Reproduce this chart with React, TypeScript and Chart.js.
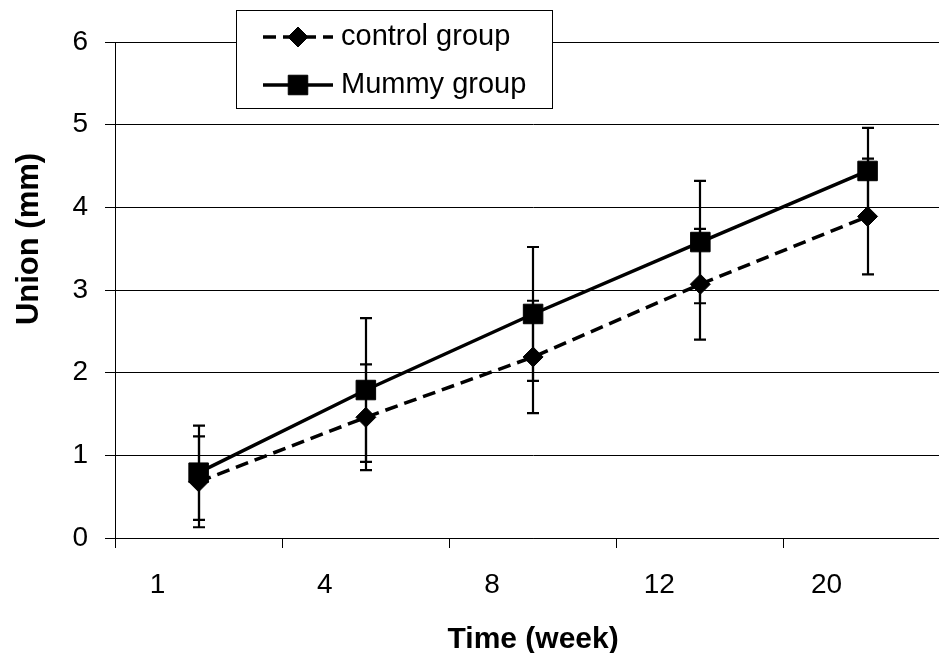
import React, { useEffect, useRef } from 'react';
import { Chart, registerables } from 'chart.js';

Chart.register(...registerables);

// ---- data ----
const weeks: string[] = ['1', '4', '8', '12', '20'];
const controlMean: number[] = [0.68, 1.46, 2.19, 3.07, 3.89];
const controlSD: number[] = [0.55, 0.64, 0.68, 0.67, 0.70];
const mummyMean: number[] = [0.79, 1.79, 2.71, 3.58, 4.44];
const mummySD: number[] = [0.57, 0.87, 0.81, 0.74, 0.52];
const seriesNames: string[] = ['control group', 'Mummy group'];
const yMin = 0;
const yMax = 6;
const yStep = 1;
const xTitle = 'Time (week)';
const yTitle = 'Union (mm)';

const FAMILY = '"Liberation Sans", Arial, Helvetica, sans-serif';

const errorBarPlugin = {
  id: 'errorBars',
  beforeDatasetsDraw(chart: any) {
    const ctx = chart.ctx;
    const yScale = chart.scales.y;
    ctx.save();
    ctx.strokeStyle = '#000';
    ctx.lineWidth = 2.2;
    ctx.setLineDash([]);
    chart.data.datasets.forEach((ds: any, i: number) => {
      const meta = chart.getDatasetMeta(i);
      const errs: number[] = ds.errors || [];
      meta.data.forEach((pt: any, j: number) => {
        const v = ds.data[j];
        const e = errs[j];
        if (v == null || e == null) return;
        const x = Math.round(pt.x);
        const yt = yScale.getPixelForValue(v + e);
        const yb = yScale.getPixelForValue(v - e);
        ctx.beginPath();
        ctx.moveTo(x, yt);
        ctx.lineTo(x, yb);
        ctx.moveTo(x - 6, yt);
        ctx.lineTo(x + 6, yt);
        ctx.moveTo(x - 6, yb);
        ctx.lineTo(x + 6, yb);
        ctx.stroke();
      });
    });
    ctx.restore();
  },
};

function drawMarker(ctx: CanvasRenderingContext2D, style: string, x: number, y: number, r: number) {
  ctx.beginPath();
  if (style === 'rect') {
    const s = Math.SQRT1_2 * r;
    ctx.rect(x - s, y - s, 2 * s, 2 * s);
  } else {
    ctx.moveTo(x, y - r);
    ctx.lineTo(x + r, y);
    ctx.lineTo(x, y + r);
    ctx.lineTo(x - r, y);
    ctx.closePath();
  }
  ctx.fillStyle = '#000';
  ctx.fill();
  ctx.lineWidth = 1;
  ctx.strokeStyle = '#000';
  ctx.stroke();
}

const overlayPlugin = {
  id: 'overlay',
  afterDraw(chart: any) {
    const ctx: CanvasRenderingContext2D = chart.ctx;
    const area = chart.chartArea;
    ctx.save();
    // axis titles
    ctx.fillStyle = '#000';
    ctx.font = `bold 30px ${FAMILY}`;
    ctx.textAlign = 'center';
    ctx.textBaseline = 'alphabetic';
    ctx.fillText(xTitle, (area.left + area.right) / 2, 648);

    ctx.save();
    ctx.translate(38, 239);
    ctx.rotate(-Math.PI / 2);
    ctx.font = `bold 31px ${FAMILY}`;
    ctx.fillText(yTitle, 0, 0);
    ctx.restore();

    // legend box
    const bx = 236.5, by = 10.5, bw = 316, bh = 98;
    ctx.fillStyle = '#fff';
    ctx.fillRect(bx, by, bw, bh);
    ctx.strokeStyle = '#000';
    ctx.lineWidth = 1;
    ctx.strokeRect(bx, by, bw, bh);

    const rows = [37, 85];
    chart.data.datasets.forEach((ds: any, i: number) => {
      const y = rows[i];
      ctx.save();
      ctx.strokeStyle = '#000';
      ctx.lineWidth = ds.borderWidth;
      ctx.setLineDash(ds.borderDash || []);
      ctx.beginPath();
      ctx.moveTo(263, y);
      ctx.lineTo(333, y);
      ctx.stroke();
      ctx.setLineDash([]);
      drawMarker(ctx, ds.pointStyle, 298, y, ds.pointRadius);
      ctx.restore();
      ctx.fillStyle = '#000';
      ctx.font = `29px ${FAMILY}`;
      ctx.textAlign = 'left';
      ctx.textBaseline = 'middle';
      ctx.fillText(ds.label, 341, y);
    });
    ctx.restore();
  },
};

export default function App() {
  const ref = useRef<HTMLCanvasElement | null>(null);

  useEffect(() => {
    const canvas = ref.current;
    if (!canvas) return;
    const tickFont = { size: 28, family: FAMILY };
    const chart = new Chart(canvas, {
      type: 'line',
      data: {
        labels: weeks,
        datasets: [
          {
            label: seriesNames[0],
            data: controlMean,
            errors: controlSD,
            borderColor: '#000',
            backgroundColor: '#000',
            borderWidth: 3.5,
            borderDash: [13, 7],
            pointStyle: 'rectRot',
            pointRadius: 10,
            pointBorderWidth: 1,
            pointBackgroundColor: '#000',
            pointBorderColor: '#000',
            tension: 0,
            fill: false,
          } as any,
          {
            label: seriesNames[1],
            data: mummyMean,
            errors: mummySD,
            borderColor: '#000',
            backgroundColor: '#000',
            borderWidth: 3.5,
            pointStyle: 'rect',
            pointRadius: 13.8,
            pointBorderWidth: 1,
            pointBackgroundColor: '#000',
            pointBorderColor: '#000',
            tension: 0,
            fill: false,
          } as any,
        ],
      },
      options: {
        responsive: false,
        animation: false,
        events: [],
        layout: { padding: { top: 42, right: 10, left: 0, bottom: 0 } },
        plugins: {
          legend: { display: false },
          tooltip: { enabled: false },
        },
        scales: {
          x: {
            type: 'category',
            offset: true,
            grid: {
              offset: true,
              drawOnChartArea: false,
              drawTicks: true,
              tickLength: 10,
              color: '#000',
              lineWidth: 1,
            },
            border: { display: true, color: '#000', width: 1 },
            ticks: {
              font: tickFont,
              color: '#000',
              padding: 20,
              labelOffset: -41,
              maxRotation: 0,
              autoSkip: false,
            },
            afterFit: (s: any) => {
              s.height = 115;
            },
          },
          y: {
            min: yMin,
            max: yMax,
            ticks: { stepSize: yStep, font: tickFont, color: '#000', padding: 17 },
            grid: { color: '#000', lineWidth: 1, drawTicks: true, tickLength: 10 },
            border: { display: true, color: '#000', width: 1 },
            afterFit: (s: any) => {
              s.width = 115;
            },
          },
        },
      } as any,
      plugins: [errorBarPlugin, overlayPlugin],
    });
    return () => chart.destroy();
  }, []);

  return (
    <div
      style={{
        position: 'fixed',
        left: 0,
        top: 0,
        width: 939,
        height: 653,
        overflow: 'hidden',
        background: '#fff',
      }}
    >
      <canvas ref={ref} width={966} height={653} style={{ display: 'block', width: 966, height: 653 }} />
    </div>
  );
}
